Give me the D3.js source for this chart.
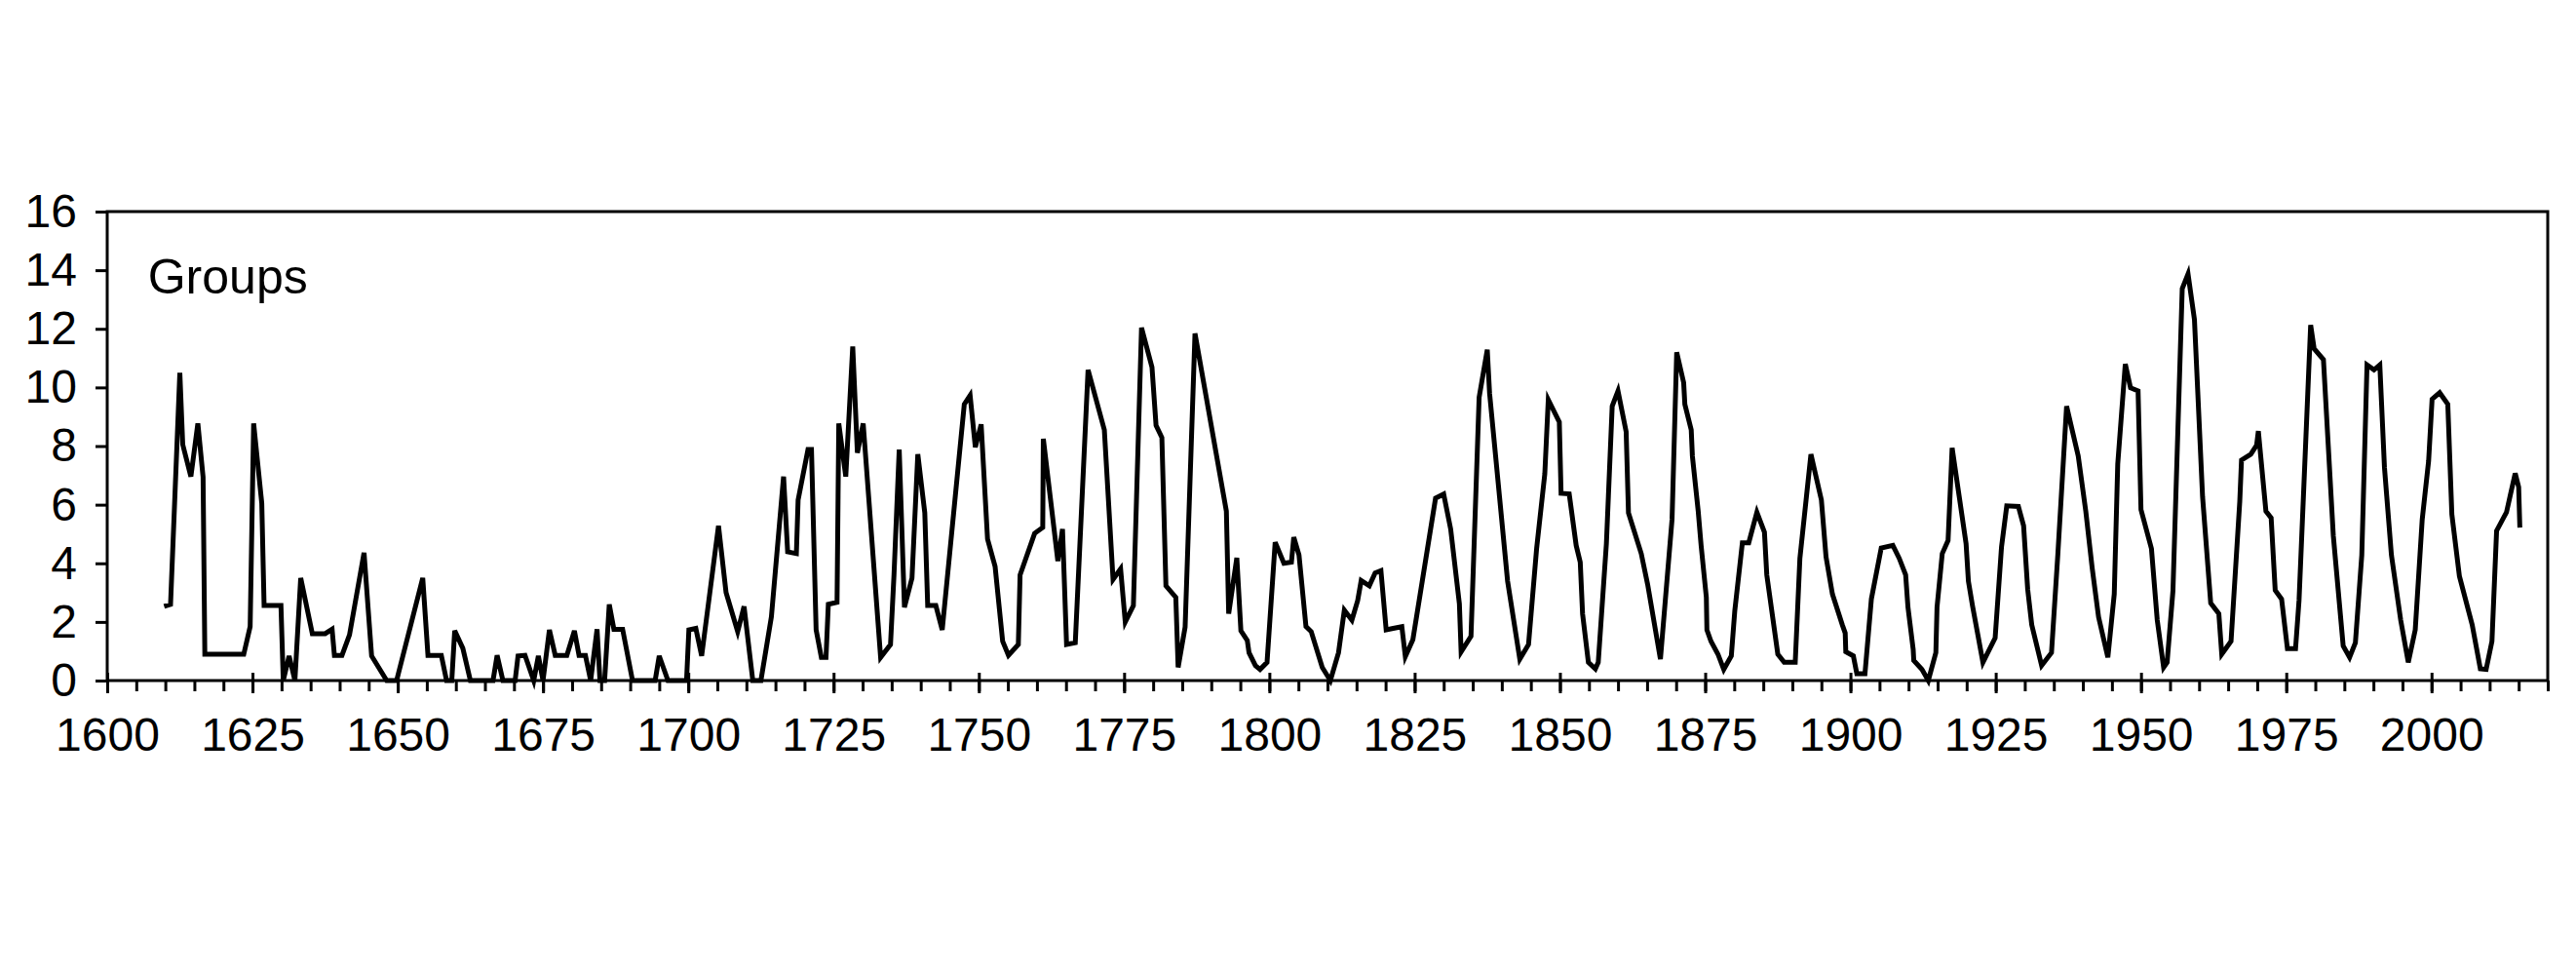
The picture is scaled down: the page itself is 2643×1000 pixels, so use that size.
<!DOCTYPE html>
<html>
<head>
<meta charset="utf-8">
<script src="https://cdn.jsdelivr.net/npm/d3@7"></script>
<style>
  html, body { margin: 0; padding: 0; background: #fff; }
  svg { display: block; }
  text { font-family: "Liberation Sans", Arial, Helvetica, sans-serif; fill: #000; }
</style>
</head>
<body>
<svg id="chart" width="2643" height="1000"></svg>
<script>
// Series label
const seriesLabel = "Groups";

// Vertex years and group numbers
const years = [
  1609.8,1610.9,1612.5,1613.0,1614.4,1615.6,1616.5,1616.8,1623.5,1624.6,
  1625.2,1626.6,1627.0,1629.9,1630.3,1631.3,1632.3,1633.3,1635.3,1637.5,
  1638.7,1639.1,1640.4,1641.7,1644.2,1645.5,1648.1,1649.8,1654.3,1655.2,
  1657.5,1658.4,1659.3,1659.8,1661.2,1662.5,1666.4,1667.1,1668.1,1670.2,
  1670.7,1671.9,1673.4,1674.2,1675.0,1676.1,1677.1,1679.1,1680.4,1681.2,
  1682.3,1683.2,1684.3,1684.8,1685.6,1686.4,1687.2,1688.7,1690.4,1694.3,
  1695.0,1696.5,1699.7,1700.1,1701.3,1702.3,1705.2,1706.5,1708.5,1709.6,
  1711.1,1712.5,1714.3,1716.4,1717.1,1718.6,1718.9,1720.6,1721.2,1722.0,
  1722.9,1723.7,1724.1,1725.6,1725.9,1727.1,1728.3,1729.1,1730.1,1733.1,
  1734.8,1735.4,1736.3,1737.2,1738.5,1739.5,1740.7,1741.2,1742.6,1743.7,
  1747.5,1748.5,1749.4,1750.4,1751.5,1752.8,1754.1,1755.1,1756.8,1757.1,
  1759.6,1761.0,1761.1,1763.6,1764.4,1765.1,1766.6,1768.8,1771.6,1773.1,
  1774.4,1775.2,1776.6,1778.0,1779.8,1780.5,1781.5,1782.2,1783.9,1784.3,
  1785.5,1787.2,1792.6,1793.0,1794.4,1795.1,1796.2,1796.5,1797.6,1798.4,
  1799.6,1801.0,1802.5,1803.8,1804.2,1805.1,1806.3,1807.2,1809.1,1810.5,
  1811.9,1812.9,1814.2,1815.2,1815.8,1817.2,1818.2,1819.2,1820.1,1821.3,
  1822.8,1823.4,1824.7,1828.6,1830.0,1831.2,1832.7,1833.0,1834.7,1836.1,
  1837.5,1837.9,1841.0,1843.1,1844.6,1846.0,1847.4,1848.0,1849.9,1850.2,
  1851.6,1852.8,1853.5,1853.9,1854.9,1856.1,1856.6,1858.0,1859.0,1860.0,
  1861.4,1861.8,1864.0,1865.1,1867.3,1869.3,1870.1,1871.3,1871.5,1872.6,
  1872.8,1873.8,1874.3,1875.2,1875.3,1876.0,1877.2,1878.2,1879.5,1880.1,
  1881.4,1882.5,1883.9,1885.2,1885.6,1887.5,1888.6,1890.5,1891.3,1893.2,
  1895.0,1895.8,1896.9,1898.6,1899.1,1899.2,1900.5,1901.1,1902.5,1903.6,
  1905.3,1907.3,1908.4,1909.5,1909.9,1910.8,1910.9,1912.3,1913.4,1914.7,
  1914.9,1915.8,1916.8,1917.5,1919.9,1920.3,1921.0,1922.8,1924.9,1926.0,
  1926.9,1928.9,1929.8,1930.5,1931.2,1932.9,1934.6,1935.7,1937.2,1939.2,
  1940.5,1941.6,1942.7,1944.3,1945.4,1946.0,1947.3,1948.2,1949.5,1950.0,
  1951.8,1952.8,1953.9,1954.5,1955.5,1957.1,1958.1,1959.2,1960.6,1962.0,
  1963.4,1963.9,1965.5,1967.0,1967.3,1968.9,1969.9,1970.2,1971.5,1972.4,
  1973.1,1974.2,1975.2,1976.6,1977.2,1979.2,1979.8,1981.4,1983.1,1984.8,
  1985.9,1986.9,1988.0,1988.9,1990.1,1991.1,1991.9,1993.1,1994.7,1996.0,
  1997.2,1998.4,1999.5,2000.1,2001.4,2002.8,2003.5,2004.8,2007.0,2008.4,
  2009.4,2010.4,2011.2,2012.9,2014.4,2015.0,2015.2
];
const groups = [
  2.53,2.60,10.5,8.05,6.96,8.77,6.94,0.90,0.90,1.84,
  8.77,6.05,2.56,2.56,0.00,0.84,0.00,3.50,1.60,1.60,
  1.75,0.86,0.86,1.56,4.36,0.84,0.00,0.00,3.50,0.86,
  0.86,0.00,0.00,1.70,1.10,0.00,0.00,0.86,0.00,0.00,
  0.84,0.86,0.00,0.84,0.00,1.73,0.86,0.86,1.70,0.86,
  0.86,0.00,1.75,0.00,0.00,2.60,1.75,1.75,0.00,0.00,
  0.84,0.00,0.00,1.73,1.78,0.84,5.28,3.00,1.67,2.53,
  0.00,0.00,2.17,6.96,4.39,4.33,6.16,7.88,7.88,1.73,
  0.79,0.79,2.60,2.67,8.77,6.96,11.4,7.77,8.77,0.79,
  1.23,3.60,7.88,2.50,3.50,7.72,5.72,2.56,2.56,1.73,
  9.43,9.73,7.96,8.74,4.83,3.89,1.34,0.86,1.23,3.60,
  5.02,5.22,8.25,4.08,5.17,1.23,1.29,10.6,8.55,3.45,
  3.81,2.00,2.56,12.04,10.69,8.70,8.29,3.23,2.84,0.45,
  1.82,11.84,5.78,2.28,4.19,1.70,1.37,0.95,0.51,0.38,
  0.62,4.72,4.00,4.04,4.89,4.28,1.84,1.67,0.45,0.00,
  0.95,2.40,2.06,2.73,3.41,3.23,3.67,3.75,1.73,1.78,
  1.84,0.82,1.40,6.22,6.36,5.17,2.62,0.98,1.51,9.66,
  11.29,9.80,3.39,0.73,1.23,4.52,7.05,9.58,8.82,6.39,
  6.37,4.61,4.04,2.28,0.62,0.40,0.62,4.67,9.36,9.88,
  8.49,5.72,4.33,3.28,0.73,5.50,11.2,10.16,9.43,8.55,
  7.66,5.78,4.61,2.84,1.73,1.34,0.90,0.38,0.84,2.39,
  4.70,4.70,5.74,5.06,3.61,0.90,0.62,0.62,4.17,7.72,
  6.16,4.22,2.95,1.90,1.62,0.98,0.84,0.23,0.23,2.78,
  4.52,4.61,4.17,3.61,2.50,1.06,0.68,0.38,0.00,0.95,
  2.50,4.33,4.78,7.94,4.67,3.39,2.56,0.62,1.45,4.56,
  5.96,5.94,5.28,3.12,1.90,0.51,0.95,4.33,9.36,7.66,
  5.78,3.84,2.17,0.79,2.95,7.38,10.8,9.99,9.88,5.83,
  4.50,2.06,0.45,0.62,3.06,13.37,13.87,12.32,6.27,2.64,
  2.28,0.90,1.34,6.11,7.52,7.72,8.03,8.51,5.78,5.55,
  3.08,2.78,1.09,1.09,2.73,12.13,11.32,10.95,4.94,1.18,
  0.79,1.29,4.28,10.77,10.60,10.77,7.27,4.28,2.06,0.62,
  1.73,5.50,7.49,9.60,9.82,9.43,5.67,3.56,1.90,0.40,
  0.38,1.34,5.11,5.74,7.07,6.60,5.22
];

// Axis ticks
const xMajorTicks = [1600,1625,1650,1675,1700,1725,1750,1775,1800,1825,1850,1875,1900,1925,1950,1975,2000];
const xMinorTicks = d3.range(1600, 2021, 5);
const yTicks = [0,2,4,6,8,10,12,14,16];

const W = 2643, H = 1000;
const margin = { left: 110, right: 29, top: 217, bottom: 302 };
const svg = d3.select("#chart");
svg.append("rect").attr("width", W).attr("height", H).attr("fill", "#fff");

const x = d3.scaleLinear().domain([1600, 2020]).range([margin.left, W - margin.right]);
const y = d3.scaleLinear().domain([0, 16]).range([H - margin.bottom, margin.top]);

const x0 = x.range()[0], x1 = x.range()[1];
const yBottom = y(0), yTop = y(16);

// Minor ticks (below axis)
const minorAxis = svg.append("g")
  .attr("transform", `translate(0,${yBottom})`)
  .call(d3.axisBottom(x).tickValues(xMinorTicks).tickSize(11).tickFormat(""));
minorAxis.select(".domain").remove();
minorAxis.selectAll("line").attr("stroke", "#000").attr("stroke-width", 3);

// Major ticks with labels (below)
const majorAxis = svg.append("g")
  .attr("transform", `translate(0,${yBottom})`)
  .call(d3.axisBottom(x).tickValues(xMajorTicks).tickSize(13).tickPadding(25).tickFormat(d3.format("d")));
majorAxis.select(".domain").remove();
majorAxis.selectAll("line").attr("stroke", "#000").attr("stroke-width", 3);
majorAxis.selectAll("text").attr("font-size", 48).attr("font-family", "Liberation Sans, Arial, sans-serif").attr("fill", "#000");

// Major ticks extending above axis
const majorTop = svg.append("g")
  .attr("transform", `translate(0,${yBottom})`)
  .call(d3.axisTop(x).tickValues(xMajorTicks).tickSize(8).tickFormat(""));
majorTop.select(".domain").remove();
majorTop.selectAll("line").attr("stroke", "#000").attr("stroke-width", 3);

// Y axis
const yAxis = svg.append("g")
  .attr("transform", `translate(${x0},0)`)
  .call(d3.axisLeft(y).tickValues(yTicks).tickSize(12).tickPadding(19).tickFormat(d3.format("d")));
yAxis.select(".domain").remove();
yAxis.selectAll("line").attr("stroke", "#000").attr("stroke-width", 3);
yAxis.selectAll("text").attr("font-size", 48).attr("font-family", "Liberation Sans, Arial, sans-serif").attr("fill", "#000");

// Frame
svg.append("rect")
  .attr("x", x0).attr("y", yTop)
  .attr("width", x1 - x0).attr("height", yBottom - yTop)
  .attr("fill", "none").attr("stroke", "#000").attr("stroke-width", 3);

// Data line
const data = years.map((yr, i) => ({ yr, v: groups[i] }));
svg.append("path")
  .datum(data)
  .attr("fill", "none")
  .attr("stroke", "#000")
  .attr("stroke-width", 5)
  .attr("stroke-linejoin", "miter")
  .attr("stroke-miterlimit", 4)
  .attr("d", d3.line().x(d => x(d.yr)).y(d => y(d.v)));

// Series label
svg.append("text")
  .attr("x", x(1607))
  .attr("y", y(13.2))
  .attr("font-size", 50)
  .text(seriesLabel);
</script>
</body>
</html>
